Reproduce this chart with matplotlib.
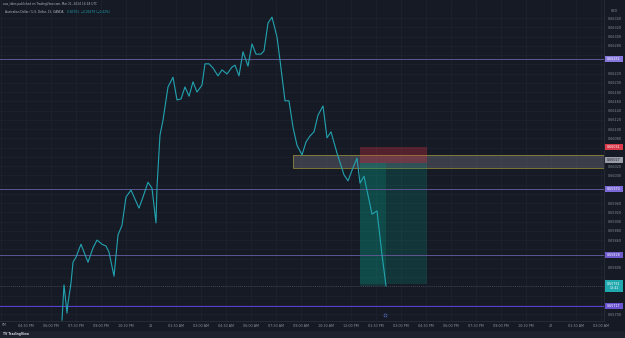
import matplotlib
matplotlib.use("Agg")
import matplotlib.pyplot as plt
from matplotlib.patches import Rectangle

# ---------------- data ----------------
hours = [-5.34, -5.22, -5.04, -4.98, -4.80, -4.68, -4.50, -4.20, -3.78, -3.48,
         -3.24, -2.94, -2.70, -2.52, -2.22, -1.98, -1.74, -1.50, -1.20, -0.72,
         -0.48, -0.18, 0.06, 0.30, 0.36, 0.54, 0.72, 0.84, 1.02, 1.32,
         1.56, 1.80, 2.04, 2.28, 2.52, 2.76, 3.06, 3.24, 3.48, 3.72,
         4.02, 4.26, 4.56, 4.86, 5.04, 5.28, 5.52, 5.82, 6.06, 6.30,
         6.60, 6.78, 7.02, 7.26, 7.56, 7.74, 8.04, 8.28, 8.52, 8.76,
         9.06, 9.30, 9.54, 9.78, 10.02, 10.32, 10.56, 10.80, 11.16, 11.58,
         11.82, 12.06, 12.36, 12.54, 12.78, 13.26, 13.56, 13.86, 14.10]
prices = [0.65687, 0.65763, 0.65702, 0.65724, 0.65767, 0.65812, 0.65823, 0.65851, 0.65812, 0.65843,
          0.65860, 0.65851, 0.65847, 0.65834, 0.65782, 0.65871, 0.65892, 0.65953, 0.65968, 0.65929,
          0.65953, 0.65985, 0.65972, 0.65897, 0.65975, 0.66087, 0.66119, 0.66148, 0.66191, 0.66212,
          0.66163, 0.66165, 0.66191, 0.66171, 0.66202, 0.66180, 0.66195, 0.66241, 0.66241, 0.66232,
          0.66215, 0.66228, 0.66219, 0.66234, 0.66238, 0.66215, 0.66267, 0.66236, 0.66284, 0.66262,
          0.66262, 0.66269, 0.66329, 0.66342, 0.66299, 0.66249, 0.66161, 0.66161, 0.66104, 0.66065,
          0.66044, 0.66072, 0.66085, 0.66094, 0.66130, 0.66150, 0.66081, 0.66094, 0.66048, 0.66001,
          0.65988, 0.66011, 0.66037, 0.65983, 0.65998, 0.65916, 0.65923, 0.65828, 0.65761]

level_prices = [0.66251, 0.65970, 0.65828, 0.65717]
level_colors = ["#5e5692", "#5e5692", "#5e5692", "#5b40d8"]
level_label_colors = ["#8577dc", "#7a68d6", "#6f5acc", "#6a52d0"]

zone_top, zone_bottom, zone_start = 0.66044, 0.66016, 8.52
stop_price, entry_price, target_price = 0.66061, 0.66027, 0.65765
pos_start, pos_end = 12.54, 16.56
last_price = 0.65761
entry_tag_price = 0.66034

time_ticks = [-7.5 + 1.5 * i for i in range(24)]
time_labels = ["04:30 PM", "06:00 PM", "07:30 PM", "09:00 PM", "10:30 PM", "21",
               "01:30 AM", "03:00 AM", "04:30 AM", "06:00 AM", "07:30 AM", "09:00 AM",
               "10:30 AM", "12:00 PM", "01:30 PM", "03:00 PM", "04:30 PM", "06:00 PM",
               "07:30 PM", "09:00 PM", "10:30 PM", "22", "01:30 AM", "03:00 AM"]
price_ticks = [round(0.65700 + 0.0002 * i, 5) for i in range(33)]

# ---------------- figure ----------------
W, H = 625, 338
BG = "#161a25"
fig = plt.figure(figsize=(W / 100, H / 100), dpi=100, facecolor=BG)
ax = fig.add_axes([0, (H - 321) / H, 604 / W, 321 / H], facecolor=BG)
ax.set_xlim(-9.06, 27.18)
ax.set_ylim(0.65685, 0.66379)

for s in ax.spines.values():
    s.set_visible(False)
for side in ("right", "bottom"):
    ax.spines[side].set_visible(True)
    ax.spines[side].set_color("#2a2e39")
    ax.spines[side].set_linewidth(0.6)

tags = [(p, 0.00014) for p in level_prices] + [(stop_price, 0.00014), (entry_tag_price, 0.00014),
                                              (last_price, 0.00028)]

def covered(t):
    return any(abs(t - p) < hh for p, hh in tags)

ax.set_xticks(time_ticks)
ax.set_xticklabels(time_labels)
ax.set_yticks(price_ticks)
ax.set_yticklabels(["" if covered(p) else f"{p:.5f}" for p in price_ticks])
ax.yaxis.tick_right()
ax.tick_params(axis="x", length=0, pad=2, labelsize=2.4, colors="#8a8e99")
ax.tick_params(axis="y", length=0, pad=3, labelsize=2.4, colors="#8a8e99")
ax.grid(True, color="#1f2330", linewidth=0.5)
ax.axvline(-9.0, color="#1f2330", linewidth=0.5, zorder=0)
ax.set_axisbelow(True)
# leftmost time label, only its tail visible in the reference
fig.text(2 / W, 1 - 325.5 / H, "PM", color="#8a8e99", fontsize=2.4, ha="left", va="center")

# zone
ax.add_patch(Rectangle((zone_start, zone_bottom), 27.18 - zone_start, zone_top - zone_bottom,
                       facecolor="#787b86", alpha=0.38, edgecolor="none", zorder=2))
ax.add_patch(Rectangle((zone_start, zone_bottom), 27.18 - zone_start, zone_top - zone_bottom,
                       facecolor="none", edgecolor="#8a8535", linewidth=0.6, zorder=2.1))

# short position
ax.add_patch(Rectangle((pos_start, entry_price), pos_end - pos_start, stop_price - entry_price,
                       facecolor="#f23645", alpha=0.28, edgecolor="none", zorder=2.2))
ax.add_patch(Rectangle((pos_start, target_price), pos_end - pos_start, entry_price - target_price,
                       facecolor="#089981", alpha=0.22, edgecolor="none", zorder=2.2))
ax.add_patch(Rectangle((pos_start, last_price), hours[-1] - pos_start, entry_price - last_price,
                       facecolor="#089981", alpha=0.22, edgecolor="none", zorder=2.3))

# horizontal levels
for p, c in zip(level_prices, level_colors):
    ax.axhline(p, color=c, linewidth=0.7, zorder=3)

# last price dotted line
ax.axhline(last_price, color="#5d606b", linewidth=0.5, linestyle=(0, (1, 2)), zorder=3)

# price line
ax.plot(hours, prices, color="#22a3b0", linewidth=0.8, zorder=4)

# ---------------- right-axis labels ----------------
def fig_y(price):
    return ax.transData.transform((0, price))[1] / H

def price_tag(price, text, color, tcolor="white", h=6):
    yc = fig_y(price)
    fig.patches.append(Rectangle((605 / W, yc - h / 2 / H), 18 / W, h / H,
                                 facecolor=color, edgecolor="none",
                                 transform=fig.transFigure, figure=fig, zorder=5))
    fig.text(614 / W, yc, text, color=tcolor, fontsize=2.3, ha="center", va="center", zorder=6)

for p, c in zip(level_prices, level_label_colors):
    price_tag(p, f"{p:.5f}", c)
price_tag(stop_price, f"{stop_price:.5f}", "#d83a4a")
price_tag(entry_tag_price, f"{entry_price:.5f}", "#9a9ca8", tcolor="#1e222d")
price_tag(last_price, f"{last_price:.5f}\n13:42", "#1fa8ad", h=12)
fig.text(614 / W, 1 - 11 / H, "USD", color="#8a8e99", fontsize=2.3, ha="center", va="center")

# ---------------- header ----------------
fig.text(3 / W, 1 - 4.5 / H, "aus_tides published on TradingView.com, Mar 21, 2024 16:18 UTC",
         color="#b2b5be", fontsize=2.1, ha="left", va="center")
fig.text(5 / W, 1 - 12 / H, "Australian Dollar / U.S. Dollar, 15, OANDA",
         color="#b2b5be", fontsize=2.1, ha="left", va="center")
fig.text(67 / W, 1 - 12 / H, "0.65761  \u22120.00279 (\u22120.42%)",
         color="#22a3b0", fontsize=2.1, ha="left", va="center")

# ---------------- footer ----------------
fig.patches.append(Rectangle((0, 0), 1, 7.5 / H, facecolor="#1e222d", edgecolor="none",
                             transform=fig.transFigure, figure=fig, zorder=0))
fig.text(3 / W, 3.8 / H, "TV TradingView", color="#d1d4dc", fontsize=2.2,
         ha="left", va="center", fontweight="bold")

# small target icon under the last bar
ax.plot([hours[-1] - 0.06], [0.65697], marker="o", markersize=2.2, markerfacecolor="none",
        markeredgecolor="#5a7bd0", markeredgewidth=0.4, clip_on=False, zorder=5)

fig.savefig("out.png", dpi=100, facecolor=BG)
